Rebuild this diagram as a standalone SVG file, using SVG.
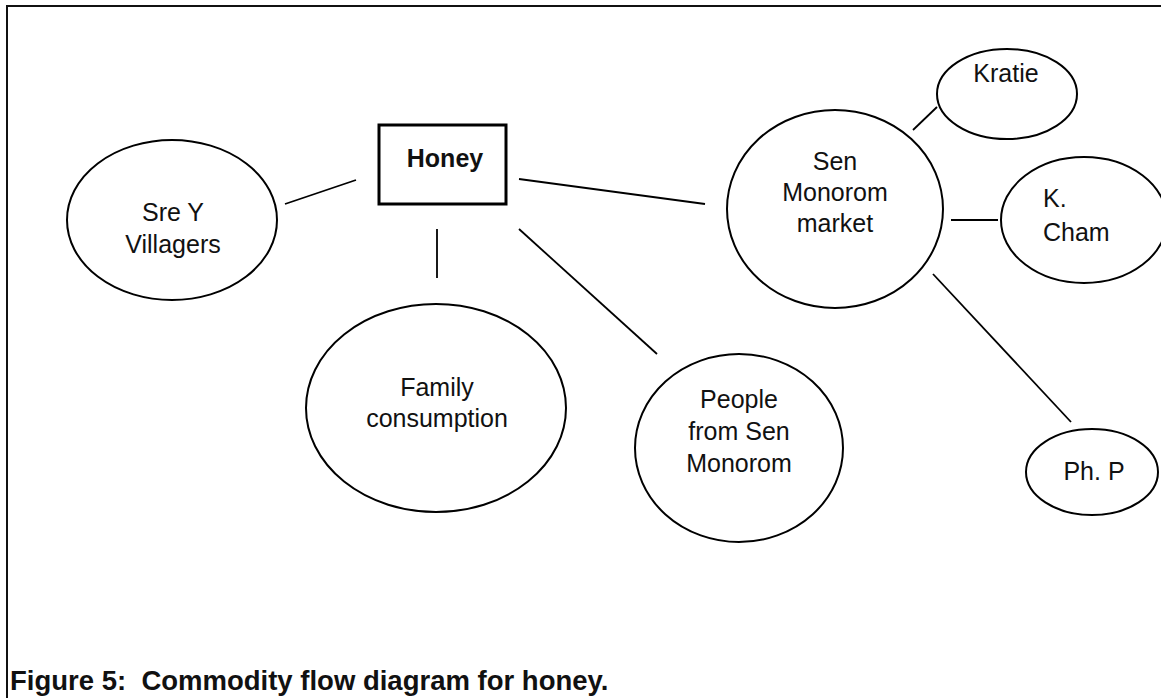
<svg xmlns="http://www.w3.org/2000/svg" width="1161" height="698" viewBox="0 0 1161 698">
  <style>
    .node { fill: #ffffff; stroke: #000000; stroke-width: 2; }
    .box { fill: #ffffff; stroke: #000000; stroke-width: 3; }
    .lbl { font-family: "Liberation Sans", Arial, sans-serif; font-size: 25px; fill: #111111; text-anchor: middle; }
    .lft { text-anchor: start; }
    .bold { font-weight: bold; }
    .caption { font-size: 27.5px; }
    .edge { stroke: #000000; stroke-width: 1.8; fill: none; }
    .frame { stroke: #111111; stroke-width: 2; fill: none; }
  </style>
  <rect x="0" y="0" width="1161" height="698" fill="#ffffff"/>

  <!-- frame: top and left rules only -->
  <path class="frame" d="M7,698 L7,6 L1161,6"/>

  <!-- connectors -->
  <g id="connectors">
    <line class="edge" x1="285" y1="204" x2="356" y2="180"/>
    <line class="edge" x1="519" y1="179" x2="705" y2="204"/>
    <line class="edge" x1="437" y1="229" x2="437" y2="278"/>
    <line class="edge" x1="519" y1="229" x2="657" y2="354"/>
    <line class="edge" x1="913" y1="130" x2="937" y2="107"/>
    <line class="edge" x1="951" y1="220" x2="998" y2="220"/>
    <line class="edge" x1="933" y1="274" x2="1071" y2="422"/>
  </g>

  <g id="honey">
    <rect class="box" x="379" y="125" width="127" height="79"/>
    <text class="lbl bold" x="445" y="167">Honey</text>
  </g>

  <g id="sre-y-villagers">
    <ellipse class="node" cx="172" cy="220" rx="105" ry="80"/>
    <text class="lbl" x="173" y="221">Sre Y</text>
    <text class="lbl" x="173" y="253">Villagers</text>
  </g>

  <g id="family-consumption">
    <ellipse class="node" cx="436" cy="408" rx="130" ry="104"/>
    <text class="lbl" x="437" y="396">Family</text>
    <text class="lbl" x="437" y="427">consumption</text>
  </g>

  <g id="people-sen-monorom">
    <ellipse class="node" cx="739" cy="448" rx="104" ry="94"/>
    <text class="lbl" x="739" y="408">People</text>
    <text class="lbl" x="739" y="440">from Sen</text>
    <text class="lbl" x="739" y="472">Monorom</text>
  </g>

  <g id="sen-monorom-market">
    <ellipse class="node" cx="835" cy="209" rx="108" ry="99"/>
    <text class="lbl" x="835" y="170">Sen</text>
    <text class="lbl" x="835" y="201">Monorom</text>
    <text class="lbl" x="835" y="232">market</text>
  </g>

  <g id="kratie">
    <ellipse class="node" cx="1007" cy="94" rx="70" ry="45"/>
    <text class="lbl" x="1006" y="82">Kratie</text>
  </g>

  <g id="k-cham">
    <ellipse class="node" cx="1084" cy="220" rx="83" ry="63"/>
    <text class="lbl lft" x="1043" y="207">K.</text>
    <text class="lbl lft" x="1043" y="241">Cham</text>
  </g>

  <g id="ph-p">
    <ellipse class="node" cx="1092" cy="472" rx="66" ry="43"/>
    <text class="lbl" x="1094" y="480">Ph. P</text>
  </g>

  <text class="lbl lft bold caption" x="10" y="690" xml:space="preserve">Figure 5:  Commodity flow diagram for honey.</text>
</svg>
